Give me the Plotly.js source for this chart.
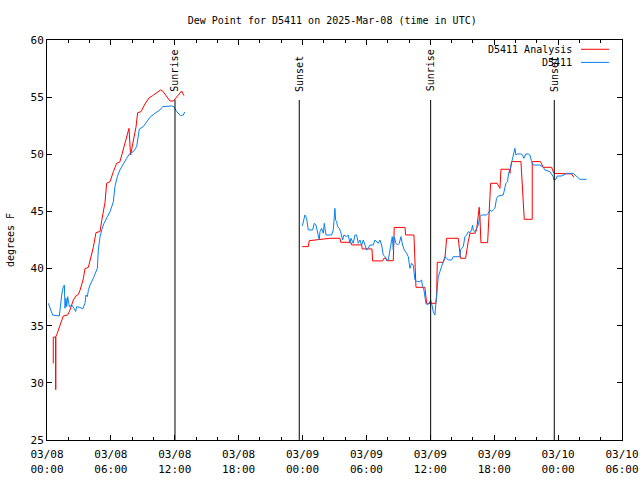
<!DOCTYPE html>
<html>
<head>
<meta charset="utf-8">
<script src="https://cdn.plot.ly/plotly-3.0.1.min.js"></script>
<style>html,body{margin:0;padding:0;background:#fff;}#chart{width:640px;height:480px;}</style>
</head>
<body>
<div id="chart"></div>
<script>
// Start of the time axis (UTC); times below are hours after this instant.
const startUTC = '2025-03-08T00:00:00Z';

// D5411 Analysis (red) — hours after start, dew point (F); null = gap
const analysisHours = [0.59,0.59,0.82,0.82,0.82,0.91,1.22,1.53,1.94,2.16,2.47,2.72,2.94,3.10,3.41,3.57,3.88,4.04,4.35,4.60,4.98,5.14,5.35,5.45,5.60,5.92,6.23,6.54,6.85,7.17,7.48,7.70,7.85,8.10,8.36,8.51,8.83,9.20,9.60,9.92,10.67,10.86,11.55,11.86,12.33,12.65,12.86,
  18.0,
  23.97,24.54,24.63,25.63,26.57,27.51,27.60,28.54,28.61,29.55,29.60,30.52,30.58,31.52,31.64,31.83,31.90,32.52,32.61,33.62,33.68,34.46,34.55,34.65,35.49,35.59,35.65,36.52,36.59,36.65,37.21,37.37,37.53,38.62,38.78,38.84,39.31,39.41,39.56,39.72,40.19,40.34,40.50,40.59,40.66,40.75,41.38,41.44,41.53,41.60,41.66,42.28,42.44,42.54,42.63,43.41,43.47,43.63,44.51,44.57,44.73,44.82,45.57,45.57,46.35,46.51,46.60,47.39,47.45,47.54,47.64,48.48,49.26,49.48];
const analysisDew = [31.7,34.0,34.0,29.4,34.04,34.2,35.07,35.85,35.94,36.37,37.25,37.6,37.74,38.1,39.1,40.0,40.1,40.7,41.85,43.15,43.24,44.2,45.6,45.8,47.46,47.6,48.48,49.2,49.35,50.38,51.54,52.27,49.94,51.25,52.4,53.64,53.73,54.4,54.95,55.13,55.63,55.54,54.66,54.66,55.19,55.54,55.13,
  null,
  41.92,41.92,42.44,42.56,42.65,42.65,42.3,42.3,42.07,42.07,41.72,41.72,40.67,40.67,40.9,40.9,40.69,40.69,43.6,43.6,42.94,42.94,40.67,38.36,38.36,37.54,36.96,36.96,37.54,40.55,40.55,40.90,42.65,42.65,41.68,40.90,40.90,41.63,42.36,43.09,43.09,43.38,44.48,45.36,44.48,42.27,42.27,43.81,45.27,46.29,47.46,47.46,47.17,47.02,48.69,48.69,48.33,49.36,49.36,48.48,46.44,44.31,44.31,49.36,49.36,49.06,48.86,48.86,48.63,48.48,48.33,48.33,48.28,47.98];

// D5411 observations (blue)
const obsHours = [0.12,0.28,0.53,1.16,1.28,1.38,1.53,1.63,1.69,1.78,1.85,1.94,2.10,2.32,2.54,2.69,2.78,3.10,3.35,3.57,3.66,3.79,3.88,4.04,4.35,4.57,4.73,4.82,4.98,5.14,5.35,5.67,5.92,6.13,6.23,6.38,6.60,6.85,7.17,7.48,7.79,8.10,8.42,8.67,9.04,9.36,9.67,10.14,10.61,10.86,11.71,11.92,12.18,12.55,12.80,12.93,
  18.0,
  23.975,24.069,24.225,24.382,24.538,24.945,25.102,25.258,25.321,25.477,25.571,25.634,25.790,25.947,26.041,26.197,26.729,26.886,26.980,27.042,27.105,27.199,27.293,27.449,27.574,27.668,27.762,27.887,28.138,28.294,28.451,28.545,28.764,28.920,29.077,29.233,29.390,29.546,29.703,29.859,30.016,30.172,30.329,30.642,30.798,31.111,31.268,31.424,31.581,31.737,31.894,32.050,32.207,32.301,32.426,32.520,32.614,32.770,32.927,33.083,33.240,33.396,33.553,33.772,33.928,34.085,34.241,34.398,34.554,34.773,
  35.023,35.179,35.273,35.399,35.492,35.586,35.712,35.899,36.025,36.118,36.275,36.431,36.525,36.588,36.682,36.744,36.901,37.057,37.214,37.370,37.527,37.683,37.996,38.153,38.779,38.842,39.092,39.249,39.405,39.561,39.718,39.874,39.968,40.031,40.187,40.281,40.500,40.657,40.813,41.283,41.439,41.596,41.752,41.909,42.065,42.222,42.378,42.848,42.942,43.098,43.255,43.349,43.474,43.630,43.787,43.943,44.037,44.162,44.475,44.663,44.788,44.976,45.195,45.352,45.508,45.665,46.291,46.604,46.760,47.230,47.543,47.605,47.793,47.918,48.325,48.795,49.421,49.734,50.046,50.672];
const obsDew = [36.96,36.53,35.94,35.85,36.96,37.69,38.42,38.56,36.53,37.4,36.67,37.54,36.67,36.82,36.53,36.24,36.67,36.6,36.47,36.96,37.69,37.54,38.07,38.56,39.15,39.59,40.03,41.63,42.79,43.38,43.96,44.54,44.98,45.56,45.85,47.17,48.04,48.63,49.21,49.65,50.09,50.23,50.67,52.21,52.41,52.85,53.24,53.59,53.88,54.17,54.23,54.17,53.73,53.38,53.44,53.7,
  null,
  43.73,44.11,44.69,44.40,43.38,43.38,43.96,43.82,43.52,43.09,42.50,43.23,43.52,43.09,43.96,42.94,42.94,43.38,44.25,45.27,44.25,44.11,43.67,43.52,43.23,42.94,42.50,42.94,42.79,42.94,42.21,42.65,42.21,42.94,42.94,42.21,42.50,42.06,42.50,42.06,41.63,41.77,42.06,42.06,42.50,42.21,42.50,42.06,41.19,41.04,40.75,40.75,41.63,42.36,42.79,41.63,42.79,42.21,42.06,42.21,42.79,42.06,41.63,41.34,41.04,40.02,40.46,40.31,39.00,38.86,
  38.86,39.00,38.42,38.13,37.60,36.96,36.82,36.96,37.25,36.96,36.23,35.94,36.96,37.60,38.71,39.29,39.73,40.17,40.61,41.04,40.90,40.75,40.75,41.04,41.04,41.63,41.92,42.79,42.94,43.23,43.14,43.38,43.81,43.38,43.23,43.44,43.81,44.54,44.69,44.69,44.84,45.13,44.98,45.13,45.27,46.15,46.35,46.44,46.88,47.46,47.61,48.33,48.63,49.36,50.08,50.52,49.94,50.03,50.03,49.94,49.65,50.03,50.03,49.94,49.36,49.06,49.06,48.86,48.63,48.48,48.04,47.75,47.81,48.10,48.10,48.33,48.33,48.04,47.81,47.81];

// Sunrise / sunset markers (hours after start)
const sunHours = [12.02, 23.69, 36.03, 47.64];
const sunLabels = ['Sunrise', 'Sunset', 'Sunrise', 'Sunset'];

// X-axis ticks (every 6 h) and labels
const tickHours = [0, 6, 12, 18, 24, 30, 36, 42, 48, 54];
const tickLabels = ['03/08<br>00:00','03/08<br>06:00','03/08<br>12:00','03/08<br>18:00','03/09<br>00:00','03/09<br>06:00','03/09<br>12:00','03/09<br>18:00','03/10<br>00:00','03/10<br>06:00'];

const seriesNames = ['D5411 Analysis', 'D5411'];
const seriesColors = ['#ff0000', '#0a80f0'];

const t0 = Date.parse(startUTC);
function toDate(h) {
  return new Date(t0 + h * 3600000).toISOString().slice(0, 19).replace('T', ' ');
}

const FONT = 'DejaVu Sans Mono, monospace';

const traces = [
  {x: analysisHours.map(toDate), y: analysisDew, name: seriesNames[0], type: 'scatter', mode: 'lines',
   line: {color: seriesColors[0], width: 1}, connectgaps: false},
  {x: obsHours.map(toDate), y: obsDew, name: seriesNames[1], type: 'scatter', mode: 'lines',
   line: {color: seriesColors[1], width: 1}, connectgaps: false}
];

const shapes = sunHours.map(h => ({
  type: 'line', xref: 'x', yref: 'y', x0: toDate(h), x1: toDate(h), y0: 25, y1: 54.75,
  line: {color: '#000', width: 1}
}));
const annotations = sunHours.map((h, i) => ({
  x: toDate(h), y: 55.3, xref: 'x', yref: 'y', text: sunLabels[i], showarrow: false,
  textangle: -90, xanchor: 'center', yanchor: 'bottom', font: {family: FONT, size: 10, color: '#000'}
}));

// Legend, drawn in the gnuplot style (label on the left, sample on the right)
const legendY = [0.9768, 0.944];
seriesNames.forEach((n, i) => {
  annotations.push({x: 0.9165, y: legendY[i], xref: 'paper', yref: 'paper', text: n, showarrow: false,
    xanchor: 'right', yanchor: 'middle', font: {family: FONT, size: 10, color: '#000'}});
  shapes.push({type: 'line', xref: 'paper', yref: 'paper', x0: 0.9287, x1: 0.9774, y0: legendY[i], y1: legendY[i],
    line: {color: seriesColors[i], width: 1}});
});

const layout = {
  width: 640, height: 480,
  margin: {l: 47, r: 18, t: 40, b: 40},
  paper_bgcolor: '#fff', plot_bgcolor: '#fff',
  showlegend: false,
  font: {family: FONT, size: 11, color: '#000'},
  title: {text: 'Dew Point for D5411 on 2025-Mar-08 (time in UTC)', x: 0.496, xref: 'paper', xanchor: 'center', y: 0.958, yanchor: 'middle',
    font: {family: FONT, size: 10, color: '#000'}},
  xaxis: {
    type: 'date', range: [toDate(0), toDate(54)],
    tickvals: tickHours.map(toDate), ticktext: tickLabels,
    ticks: 'inside', ticklen: 5, tickcolor: '#000', tickwidth: 1,
    minor: {dtick: 2 * 3600000, ticks: 'inside', ticklen: 3, tickcolor: '#000', tickwidth: 1, showgrid: false},
    showline: true, linecolor: '#000', linewidth: 1, mirror: 'ticks',
    showgrid: false, zeroline: false, tickangle: 0, ticklabelstandoff: 4,
    tickfont: {family: FONT, size: 11, color: '#000'}
  },
  yaxis: {
    range: [25, 60], dtick: 5, tick0: 25,
    ticks: 'inside', ticklen: 5, tickcolor: '#000', tickwidth: 1,
    showline: true, linecolor: '#000', linewidth: 1, mirror: 'ticks',
    showgrid: false, zeroline: false,
    tickfont: {family: FONT, size: 11, color: '#000'},
    title: {text: 'degrees F', standoff: 14, font: {family: FONT, size: 10, color: '#000'}}
  },
  shapes: shapes,
  annotations: annotations
};

Plotly.newPlot('chart', traces, layout, {displayModeBar: false, staticPlot: true});
</script>
</body>
</html>
